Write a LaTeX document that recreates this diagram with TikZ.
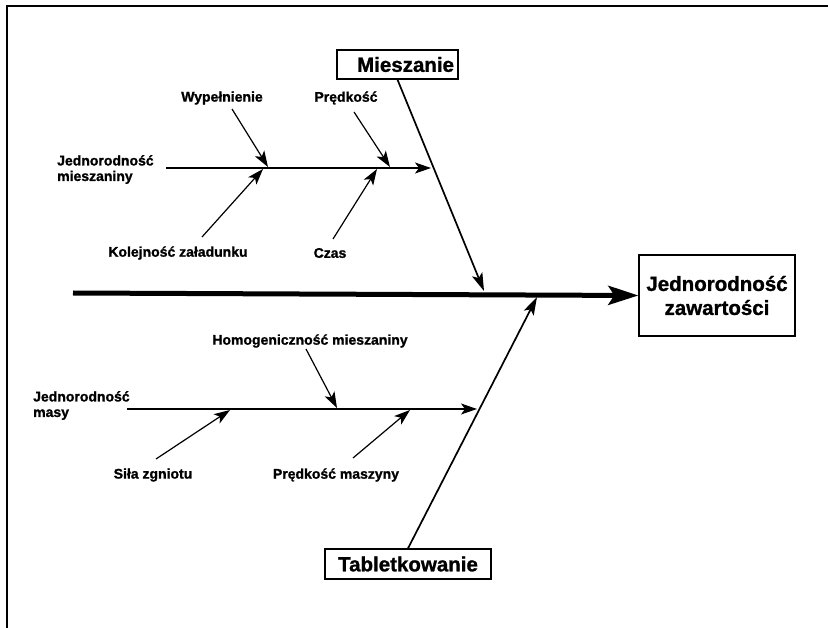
\documentclass[tikz,border=0pt]{standalone}
\usepackage{fontspec}
\setmainfont{Liberation Sans}[BoldFeatures={FakeBold=1.2}]
\usetikzlibrary{arrows.meta}
\begin{document}
\begin{tikzpicture}[x=1pt,y=-1pt,
  lbl/.style={font=\fontsize{14}{15.5}\selectfont\bfseries, inner sep=0pt},
  big/.style={font=\fontsize{20.5}{24}\selectfont\bfseries, inner sep=0pt},
  sub/.style={line width=1.2pt, -{Stealth[length=16pt,width=11pt,inset=4pt]}},
  branch/.style={line width=1.7pt, -{Stealth[length=18pt,width=11pt,inset=4pt]}},
  spine/.style={line width=5pt, -{Stealth[length=30pt,width=19pt,inset=6pt]}},
  boxed/.style={draw, line width=1.3pt}
]
\useasboundingbox (0,0) rectangle (828,628);
% frame
\draw[line width=2pt] (7,628) -- (7,6) -- (828,6);

% result and category boxes
\node[boxed, big, minimum width=156pt, minimum height=81pt, align=center] (res) at (717,295.5) {Jednorodność\\zawartości};
\node[boxed, big, minimum height=29pt, text width=113pt, align=right, inner xsep=4pt, inner ysep=0pt] (mies) at (397.5,64.5) {Mieszanie};
\node[boxed, big, minimum width=166pt, minimum height=30pt] (tab) at (408,564) {Tabletkowanie};

% spine
\coordinate (s0) at (73,293);
\draw[spine] (s0) -- (res.west);

% main branches
\coordinate (mtip) at (484,291);
\coordinate (ttip) at (537,297);
\draw[branch] (mies.south) -- (mtip);
\draw[branch] (tab.north) -- (ttip);

% upper sub-branch
\node[lbl, anchor=west, align=left] (jm) at (57,169.5) {Jednorodność\\mieszaniny};
\coordinate (u0) at (166,168);
\coordinate (u1) at (431,168);
\draw[sub] (u0) -- (u1);

\node[lbl] (wyp) at (222,98) {Wypełnienie};
\node[lbl] (pre) at (346,98) {Prędkość};
\node[lbl] (kol) at (178,253) {Kolejność załadunku};
\node[lbl] (czas) at (330,253) {Czas};
\coordinate (wyp0) at (232,109); \coordinate (wyp1) at (268,167);
\coordinate (pre0) at (354,112); \coordinate (pre1) at (390,167);
\coordinate (kol0) at (202,237); \coordinate (kol1) at (263,169);
\coordinate (czas0) at (333,239); \coordinate (czas1) at (377,169);
\draw[sub] (wyp0) -- (wyp1);
\draw[sub] (pre0) -- (pre1);
\draw[sub] (kol0) -- (kol1);
\draw[sub] (czas0) -- (czas1);

% lower sub-branch
\node[lbl, anchor=west, align=left] (jmasy) at (33,405.5) {Jednorodność\\masy};
\coordinate (l0) at (127,409);
\coordinate (l1) at (477,409);
\draw[sub] (l0) -- (l1);

\node[lbl] (hom) at (310,341) {Homogeniczność mieszaniny};
\node[lbl] (sila) at (153,475) {Siła zgniotu};
\node[lbl] (pm) at (336,475) {Prędkość maszyny};
\coordinate (hom0) at (306,349); \coordinate (hom1) at (337,408);
\coordinate (sila0) at (156,459); \coordinate (sila1) at (230,410);
\coordinate (pm0) at (353,458); \coordinate (pm1) at (410,410);
\draw[sub] (hom0) -- (hom1);
\draw[sub] (sila0) -- (sila1);
\draw[sub] (pm0) -- (pm1);
\end{tikzpicture}
\end{document}
